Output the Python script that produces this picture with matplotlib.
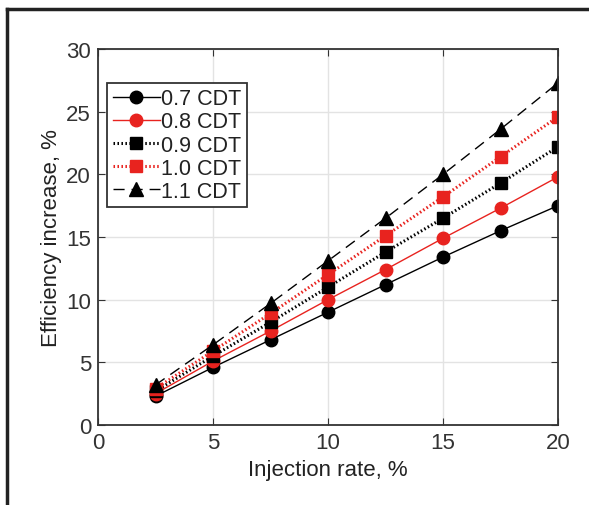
import matplotlib
matplotlib.use("Agg")
import matplotlib.pyplot as plt
from matplotlib.lines import Line2D

plt.rcParams["font.family"] = ["Liberation Sans", "DejaVu Sans"]

# ── data ──────────────────────────────────────────────────────────────────────
rate = [2.5, 5, 7.5, 10, 12.5, 15, 17.5, 20]
cdt_07 = [2.3, 4.6, 6.8, 9.0, 11.2, 13.4, 15.5, 17.5]
cdt_08 = [2.5, 5.1, 7.5, 10.0, 12.4, 14.9, 17.3, 19.8]
cdt_09 = [2.7, 5.5, 8.2, 11.0, 13.8, 16.5, 19.3, 22.2]
cdt_10 = [2.9, 5.9, 8.9, 12.0, 15.1, 18.2, 21.4, 24.6]
cdt_11 = [3.2, 6.4, 9.7, 13.1, 16.5, 20.0, 23.6, 27.3]
labels = ["0.7 CDT", "0.8 CDT", "0.9 CDT", "1.0 CDT", "1.1 CDT"]

RED = "#e8231f"

fig = plt.figure(figsize=(5.89, 5.06), dpi=100)
ax = fig.add_axes([0.1664, 0.1581, 0.7810, 0.7431])

ax.plot(rate, cdt_07, color="black", lw=1.0, marker="o", ms=9, label=labels[0])
ax.plot(rate, cdt_08, color=RED, lw=1.0, marker="o", ms=9, label=labels[1])
ax.plot(rate, cdt_09, color="black", lw=2.2, ls=(0, (0.5, 0.8)), marker="s", ms=9,
        label=labels[2])
ax.plot(rate, cdt_10, color=RED, lw=2.2, ls=(0, (0.5, 0.8)), marker="s", ms=9,
        label=labels[3])
ax.plot(rate, cdt_11, color="black", lw=1.0, ls=(0, (8, 5)), marker="^", ms=10,
        label=labels[4])

ax.set_xlim(0, 20)
ax.set_ylim(0, 30)
ax.set_xticks([0, 5, 10, 15, 20])
ax.set_yticks([0, 5, 10, 15, 20, 25, 30])
ax.grid(True, color="#e3e3e3", lw=1.0)
ax.set_axisbelow(True)
ax.tick_params(direction="in", length=5, labelsize=16, top=True, right=True,
               labeltop=False, labelright=False, pad=5, colors="#333333")
for s in ax.spines.values():
    s.set_linewidth(1.3)
    s.set_color("#333333")

ax.set_xlabel("Injection rate, %", fontsize=16, labelpad=4, color="#222222")
ax.set_ylabel("Efficiency increase, %", fontsize=16, labelpad=3, color="#222222")

leg = ax.legend(loc="upper left", bbox_to_anchor=(0.02, 0.91), fontsize=15.5,
                fancybox=False, framealpha=1, edgecolor="#333333",
                handlelength=2.2, handletextpad=0.05, borderpad=0.25,
                labelspacing=0.1, borderaxespad=0)
leg.get_frame().set_linewidth(1.3)
for t in leg.get_texts():
    t.set_color("#222222")

# outer frame (top and left edges)
fig.add_artist(Line2D([0.0119, 1.0], [0.980, 0.980], color="#222222", lw=2.5,
                      transform=fig.transFigure))
fig.add_artist(Line2D([0.0119, 0.0119], [0.0, 0.980], color="#222222", lw=2.5,
                      transform=fig.transFigure))

fig.savefig("out.png", dpi=100)
